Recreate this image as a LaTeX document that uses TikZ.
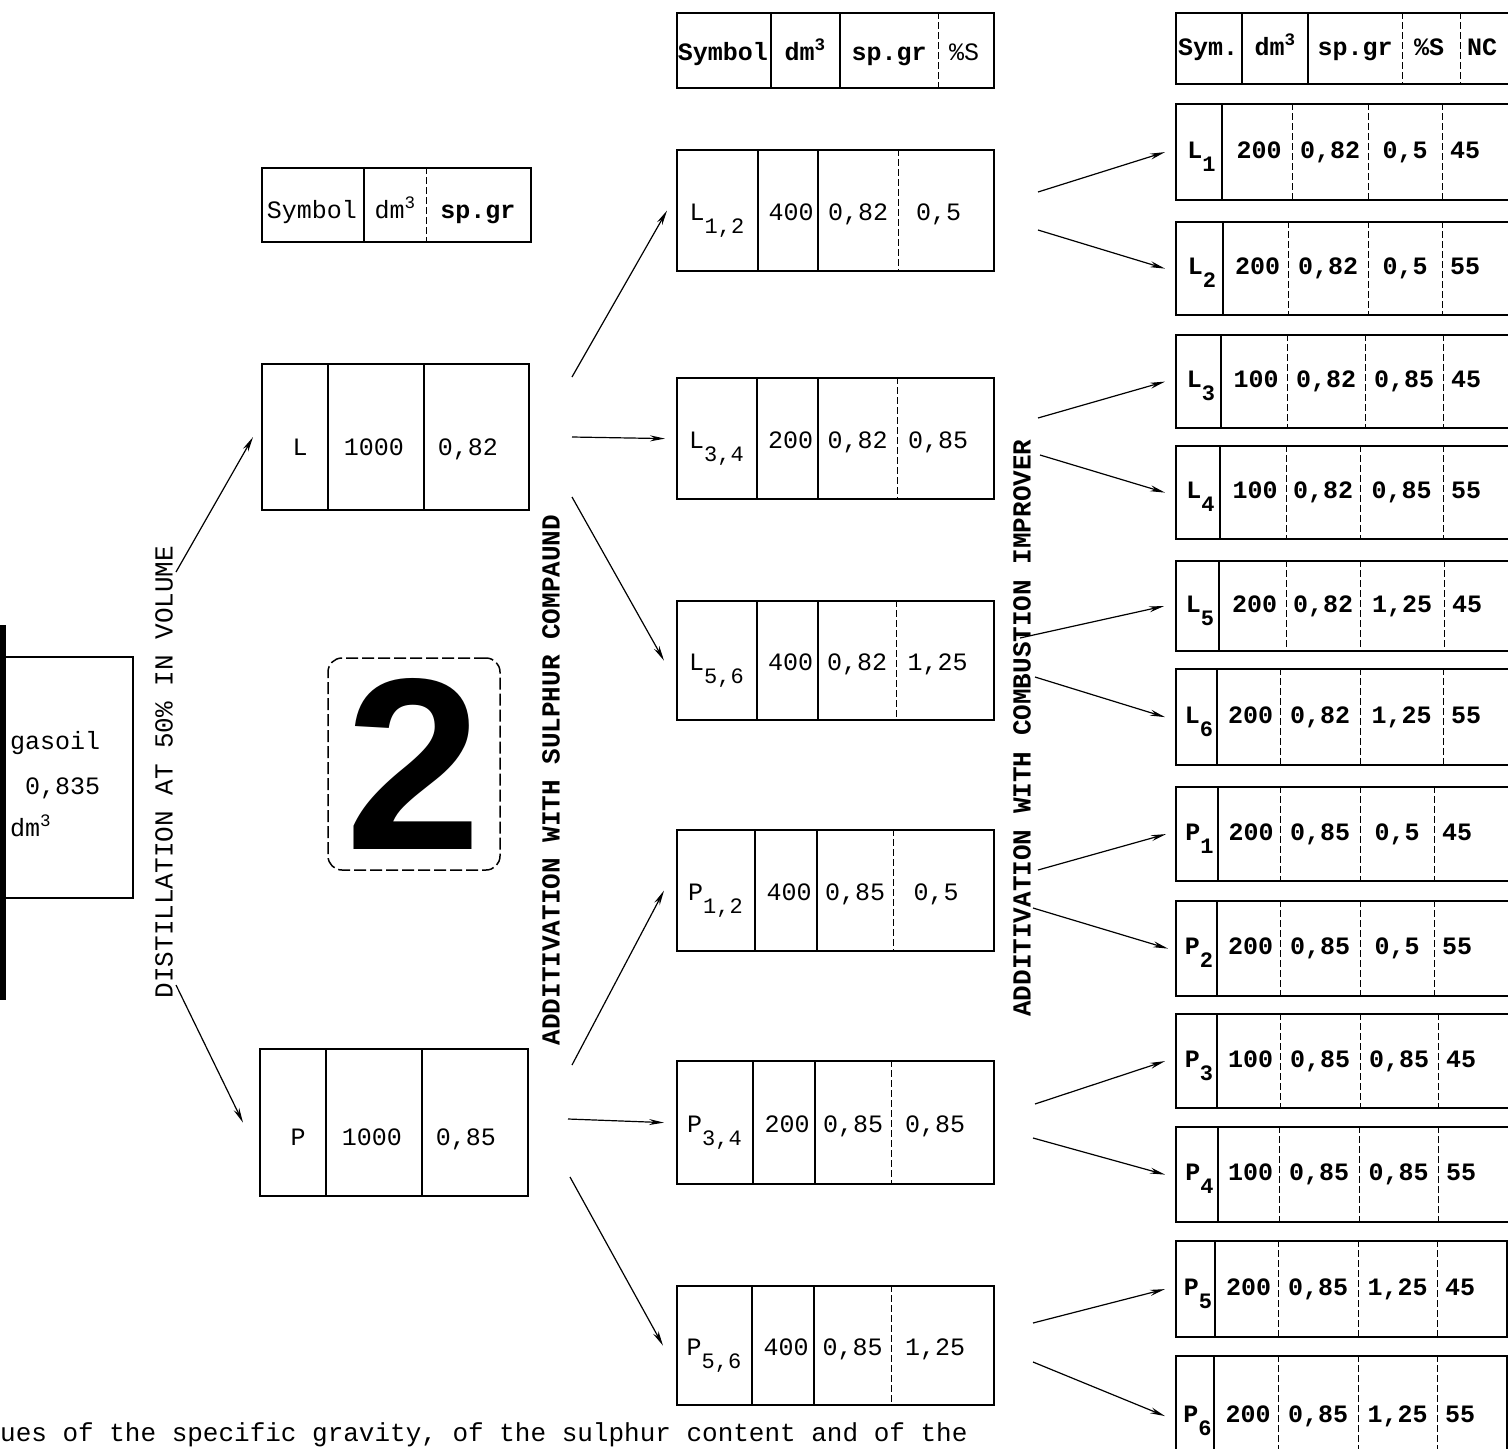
\documentclass[tikz,border=0pt]{standalone}
\usepackage{fontspec}
\newfontfamily\tw{Liberation Mono}
\newfontfamily\bigsans{Liberation Sans}
\usetikzlibrary{arrows.meta}
\newcommand\sbx[1]{\raisebox{-13pt}{\fontsize{22}{22}\selectfont #1}}
\newcommand\tabnode[5]{\node[tabbox, minimum width={(#4-#2)*1pt}, minimum height={(#5-#3)*1pt}] (#1) at (#2,#3) {};}
\begin{document}
\begin{tikzpicture}[x=1pt,y=-1pt,
 tabbox/.style={draw, line width=2.2pt, inner sep=0pt, anchor=north west},
 div/.style={line width=1.5pt},
 ddiv/.style={line width=1pt, dash pattern=on 7pt off 3pt},
 txt/.style={font={\tw\fontsize{25}{25}\selectfont}, inner sep=0pt, anchor=base},
 btxt/.style={txt, font={\tw\bfseries\fontsize{25}{25}\selectfont}},
 lbl/.style={font={\tw\fontsize{26}{26}\selectfont}, inner sep=0pt, rotate=90},
 blbl/.style={lbl, font={\tw\bfseries\fontsize{26}{26}\selectfont}},
 captxt/.style={font={\tw\fontsize{26}{26}\selectfont}, inner sep=0pt, anchor=base west},
 arr/.style={-{Stealth[length=15pt,width=6pt]}, line width=1.2pt}]
\fill[white] (0,0) rectangle (1508,1449);
\useasboundingbox (0,0) rectangle (1508,1449);
% scan edge
\fill[black] (0,625) rectangle (6,1000);
% feed box
\tabnode{gas}{-10}{656}{132}{897}
\node[txt, anchor=base west] (gas1) at (10,749) {gasoil};
\node[txt, anchor=base west] (gas2) at (25,794) {0,835};
\node[txt, anchor=base west] (gas3) at (10,836) {dm\textsuperscript{3}};
% column 1
\tabnode{h1}{261}{167}{530}{241}
\draw[div] (364,167) -- (364,241); \draw[ddiv] (426,167) -- (426,241);
\node[txt] (h1a) at (312,218) {Symbol};
\node[txt] (h1b) at (395,218) {dm\textsuperscript{3}};
\node[btxt] (h1c) at (478,218) {sp.gr};
\tabnode{L}{261}{363}{528}{509}
\draw[div] (328,363) -- (328,509); \draw[div] (424,363) -- (424,509);
\node[txt] (La) at (300,455) {L};
\node[txt] (Lb) at (374,455) {1000};
\node[txt] (Lc) at (468,455) {0,82};
\tabnode{P}{259}{1048}{527}{1195}
\draw[div] (326,1048) -- (326,1195); \draw[div] (422,1048) -- (422,1195);
\node[txt] (Pa) at (298,1145) {P};
\node[txt] (Pb) at (372,1145) {1000};
\node[txt] (Pc) at (466,1145) {0,85};
% labels
\node[lbl] (dist) at (164,772) {DISTILLATION AT 50\% IN VOLUME};
\node[blbl] (sulph) at (551,780) {ADDITIVATION WITH SULPHUR COMPAUND};
\node[blbl] (comb) at (1022,728) {ADDITIVATION WITH COMBUSTION IMPROVER};
% big number
\node[draw, line width=1.5pt, dash pattern=on 12pt off 4pt, rounded corners=14pt, inner sep=0pt,
  minimum width=172pt, minimum height=212pt,
  font={\bigsans\bfseries\fontsize{245}{245}\selectfont}] (two) at (414,764) {2};
% column 2 header
\tabnode{h2}{676}{12}{993}{87}
\draw[div] (771,12) -- (771,87); \draw[div] (840,12) -- (840,87); \draw[ddiv] (938,12) -- (938,87);
\node[btxt] (h2a) at (723,60) {Symbol};
\node[btxt] (h2b) at (805,60) {dm\textsuperscript{3}};
\node[btxt] (h2c) at (889,60) {sp.gr};
\node[txt] (h2d) at (964,60) {\%S};
% column 2 rows
\foreach \n/\ya/\yb/\da/\db/\dc/\sym/\va/\vb/\vc in {
  L12/149/270/758/818/898/{L\sbx{1,2}}/400/{0,82}/{0,5},
  L34/377/498/757/818/897/{L\sbx{3,4}}/200/{0,82}/{0,85},
  L56/600/719/757/818/896/{L\sbx{5,6}}/400/{0,82}/{1,25},
  P12/829/950/755/817/893/{P\sbx{1,2}}/400/{0,85}/{0,5},
  P34/1060/1183/753/815/891/{P\sbx{3,4}}/200/{0,85}/{0,85},
  P56/1285/1404/752/814/891/{P\sbx{5,6}}/400/{0,85}/{1,25}}{
  \pgfmathsetmacro\ym{(\ya+\yb)/2}
  \tabnode{\n}{676}{\ya}{993}{\yb}
  \draw[div] (\da,\ya) -- (\da,\yb);
  \draw[div] (\db,\ya) -- (\db,\yb);
  \draw[ddiv] (\dc,\ya) -- (\dc,\yb);
  \node[txt] (\n-s) at ({(676+\da)/2},{\ym+11}) {\sym};
  \node[txt] (\n-a) at ({(\da+\db)/2+3},{\ym+11}) {\va};
  \node[txt] (\n-b) at ({(\db+\dc)/2},{\ym+11}) {\vb};
  \node[txt] (\n-c) at ({(\dc+993)/2-7},{\ym+11}) {\vc};
}
% column 3 header
\tabnode{h3}{1175}{12}{1515}{83}
\draw[div] (1242,12) -- (1242,83); \draw[div] (1308,12) -- (1308,83);
\draw[ddiv] (1402,12) -- (1402,83); \draw[ddiv] (1460,12) -- (1460,83);
\node[btxt] (h3a) at (1208,55) {Sym.};
\node[btxt] (h3b) at (1275,55) {dm\textsuperscript{3}};
\node[btxt] (h3c) at (1355,55) {sp.gr};
\node[btxt] (h3d) at (1429,55) {\%S};
\node[btxt] (h3e) at (1482,55) {NC};
% column 3 rows
\foreach \n/\ya/\yb/\da/\db/\dc/\dd/\xe/\sym/\va/\vb/\vc/\vd in {
  L1/103/199/1222/1292/1368/1442/1515/{L\sbx{1}}/200/{0,82}/{0,5}/45,
  L2/221/314/1223/1288/1368/1442/1515/{L\sbx{2}}/200/{0,82}/{0,5}/55,
  L3/334/427/1221/1287/1365/1443/1515/{L\sbx{3}}/100/{0,82}/{0,85}/45,
  L4/445/538/1220/1286/1360/1443/1515/{L\sbx{4}}/100/{0,82}/{0,85}/55,
  L5/560/650/1219/1286/1360/1444/1515/{L\sbx{5}}/200/{0,82}/{1,25}/45,
  L6/668/764/1217/1280/1360/1443/1515/{L\sbx{6}}/200/{0,82}/{1,25}/55,
  P1/786/880/1218/1280/1360/1434/1515/{P\sbx{1}}/200/{0,85}/{0,5}/45,
  P2/900/995/1217/1280/1360/1434/1515/{P\sbx{2}}/200/{0,85}/{0,5}/55,
  P3/1013/1107/1217/1280/1360/1438/1515/{P\sbx{3}}/100/{0,85}/{0,85}/45,
  P4/1126/1221/1218/1279/1359/1438/1515/{P\sbx{4}}/100/{0,85}/{0,85}/55,
  P5/1240/1336/1215/1278/1358/1437/1506/{P\sbx{5}}/200/{0,85}/{1,25}/45,
  P6/1355/1475/1214/1278/1358/1437/1506/{P\sbx{6}}/200/{0,85}/{1,25}/55}{
  \pgfmathsetmacro\ym{(\ya+\yb)/2}
  \tabnode{\n}{1175}{\ya}{\xe}{\yb}
  \draw[div] (\da,\ya) -- (\da,\yb);
  \draw[ddiv] (\db,\ya) -- (\db,\yb);
  \draw[ddiv] (\dc,\ya) -- (\dc,\yb);
  \draw[ddiv] (\dd,\ya) -- (\dd,\yb);
  \node[btxt] (\n-s) at ({(1175+\da)/2+3},{\ym+7}) {\sym};
  \node[btxt] (\n-a) at ({(\da+\db)/2+2},{\ym+7}) {\va};
  \node[btxt] (\n-b) at ({(\db+\dc)/2},{\ym+7}) {\vb};
  \node[btxt] (\n-c) at ({(\dc+\dd)/2},{\ym+7}) {\vc};
  \node[btxt, anchor=base west] (\n-d) at ({\dd+8},{\ym+7}) {\vd};
}
% arrows
\foreach \c/\sx/\sy/\t/\sh in {
  a1/176/572/L/8, a2/176/985/P/16,
  b1/572/377/L12/9, b2/572/437/L34/11, b3/572/497/L56/12,
  b4/572/1065/P12/12, b5/568/1119/P34/12, b6/570/1177/P56/13,
  c1/1038/192/L1/10, c2/1038/230/L2/10, c3/1038/418/L3/10, c4/1040/455/L4/10,
  c5/1020/638/L5/11, c6/1035/677/L6/10, c7/1038/870/P1/9, c8/1033/908/P2/7,
  c9/1035/1104/P3/10, c10/1033/1138/P4/10, c11/1033/1323/P5/10, c12/1033/1362/P6/10}{
  \coordinate (\c) at (\sx,\sy);
  \draw[arr] (\c) -- ([xshift=-\sh pt]\t.west);
}
% caption
\node[captxt] (cap) at (0,1441) {ues of the specific gravity, of the sulphur content and of the};
\end{tikzpicture}
\end{document}
